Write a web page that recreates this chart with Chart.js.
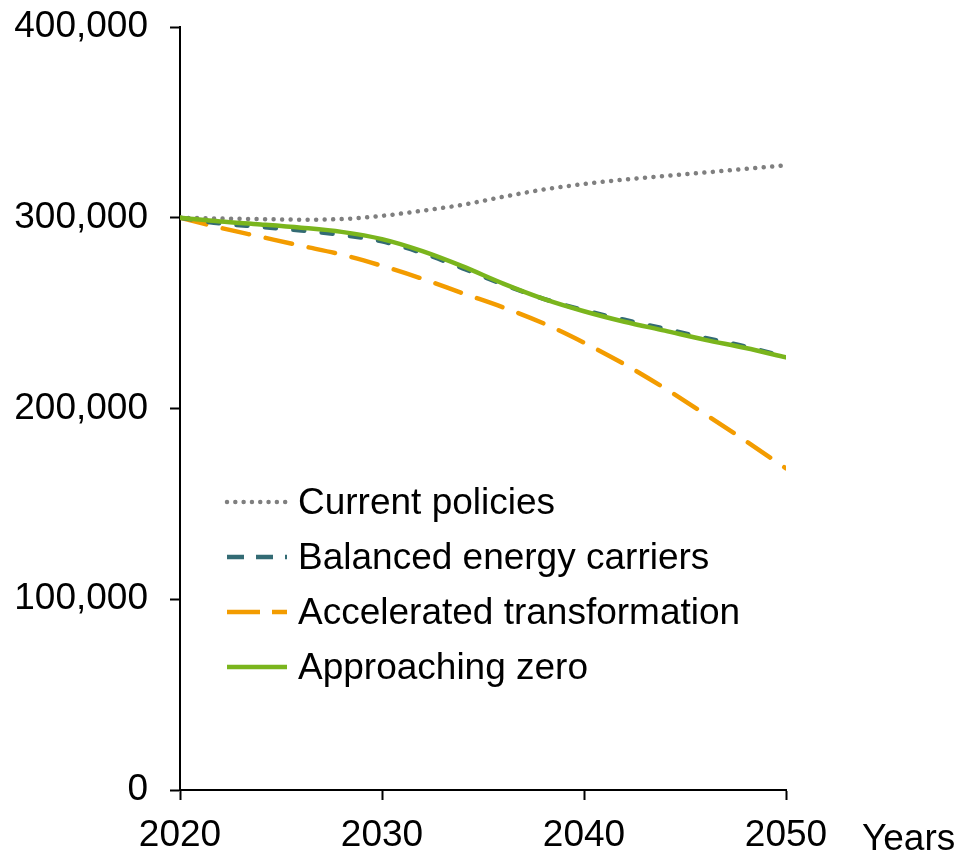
<!DOCTYPE html>
<html>
<head>
<meta charset="utf-8">
<script src="https://cdn.jsdelivr.net/npm/chart.js@4.4.1/dist/chart.umd.min.js"></script>
<style>
  html, body { margin: 0; padding: 0; background: #fff; }
  #wrap { width: 955px; height: 852px; position: relative; }
</style>
</head>
<body>
<div id="wrap"><canvas id="c" width="955" height="852"></canvas></div>
<script>
const years = [2020, 2022, 2024, 2026, 2028, 2030, 2032, 2034, 2036, 2038, 2040, 2042, 2044, 2046, 2048, 2050];
const currentPolicies = [300000, 299600, 299300, 299000, 299300, 301000, 303700, 306800, 311000, 314800, 317700, 320000, 321900, 323700, 325600, 327500];
const balancedCarriers = [300000, 297000, 295200, 293300, 291000, 287600, 281500, 273500, 265000, 257500, 251500, 246500, 241800, 237000, 232500, 227000];
const acceleratedTransformation = [300000, 294700, 290000, 285300, 280700, 274800, 268000, 260400, 253000, 244600, 234500, 223200, 210600, 197000, 183000, 168600];
const approachingZero = [300000, 298000, 296500, 294800, 292600, 288800, 282500, 274500, 265500, 257500, 251000, 245500, 240800, 236000, 231700, 226800];
const seriesNames = ['Current policies', 'Balanced energy carriers', 'Accelerated transformation', 'Approaching zero'];
const xTicks = [2020, 2030, 2040, 2050];
const yTicks = [0, 100000, 200000, 300000, 400000];
const xAxisLabel = 'Years';

const FONT = "'Liberation Sans', Arial, sans-serif";
const FSIZE = 37;
const colors = ['#7f7f7f', '#336b74', '#f39c00', '#7ab51d'];

function pts(arr) { return years.map((y, i) => ({ x: y, y: arr[i] })); }

const styles = [
  { dash: [0.01, 8.5], cap: 'round', legendDash: [0.01, 8.3], legendCap: 'round' },
  { dash: [11, 17.5], cap: 'round', legendDash: [17, 12], legendCap: 'butt' },
  { dash: [27, 17], cap: 'round', legendDash: [33, 12], legendCap: 'butt' },
  { dash: [], cap: 'round', legendDash: [], legendCap: 'butt' }
];
const seriesData = [currentPolicies, balancedCarriers, acceleratedTransformation, approachingZero];

// draw order: first dataset is drawn on top in Chart.js
const drawOrder = [3, 1, 2, 0];
const datasets = drawOrder.map(i => ({
  label: seriesNames[i],
  data: pts(seriesData[i]),
  borderColor: colors[i],
  backgroundColor: colors[i],
  borderWidth: 4.5,
  borderDash: styles[i].dash,
  borderCapStyle: styles[i].cap,
  pointRadius: 0,
  fill: false,
  tension: 0.4,
  cubicInterpolationMode: 'monotone'
}));

const legendPlugin = {
  id: 'customLegend',
  afterDraw(chart) {
    const ctx = chart.ctx;
    const area = chart.chartArea;
    const x0 = area.left + 47;
    const x1 = area.left + 107;
    const tx = area.left + 118;
    const y0 = area.top + 475;
    const step = 55;
    ctx.save();
    seriesNames.forEach((name, i) => {
      const y = y0 + i * step;
      ctx.beginPath();
      ctx.strokeStyle = colors[i];
      ctx.lineWidth = 4.5;
      ctx.lineCap = styles[i].legendCap;
      ctx.setLineDash(styles[i].legendDash);
      ctx.moveTo(x0, y);
      ctx.lineTo(x1, y);
      ctx.stroke();
      ctx.setLineDash([]);
      ctx.fillStyle = '#000';
      ctx.font = FSIZE + 'px ' + FONT;
      ctx.textAlign = 'left';
      ctx.textBaseline = 'middle';
      ctx.fillText(name, tx, y + 2);
    });
    // axis unit label
    ctx.font = FSIZE + 'px ' + FONT;
    ctx.textAlign = 'left';
    ctx.textBaseline = 'middle';
    ctx.fillStyle = '#000';
    ctx.fillText(xAxisLabel, area.right + 76, area.bottom + 50);
    ctx.restore();
  }
};

new Chart(document.getElementById('c'), {
  type: 'line',
  data: { datasets },
  options: {
    responsive: false,
    animation: false,
    devicePixelRatio: 1,
    layout: { padding: { top: 27, right: 169, left: 0, bottom: 0 } },
    plugins: { legend: { display: false }, tooltip: { enabled: false } },
    scales: {
      x: {
        type: 'linear',
        min: 2020,
        max: 2050,
        afterBuildTicks(scale) { scale.ticks = xTicks.map(v => ({ value: v })); },
        afterFit(scale) { scale.height = 62; scale.paddingLeft = 0; scale.paddingRight = 0; },
        ticks: {
          color: '#000',
          font: { family: FONT, size: FSIZE },
          padding: 14,
          maxRotation: 0,
          callback: v => String(v)
        },
        grid: { display: true, drawOnChartArea: false, drawTicks: true, tickLength: 10, tickWidth: 2, tickColor: '#000' },
        border: { display: true, color: '#000', width: 2 }
      },
      y: {
        type: 'linear',
        min: 0,
        max: 400000,
        afterBuildTicks(scale) { scale.ticks = yTicks.map(v => ({ value: v })); },
        afterFit(scale) { scale.width = 180; scale.paddingTop = 0; scale.paddingBottom = 0; },
        ticks: {
          color: '#000',
          font: { family: FONT, size: FSIZE },
          padding: 22,
          callback: v => v.toLocaleString('en-US')
        },
        grid: { display: true, drawOnChartArea: false, drawTicks: true, tickLength: 10, tickWidth: 2, tickColor: '#000' },
        border: { display: true, color: '#000', width: 2 }
      }
    }
  },
  plugins: [legendPlugin]
});
</script>
</body>
</html>
